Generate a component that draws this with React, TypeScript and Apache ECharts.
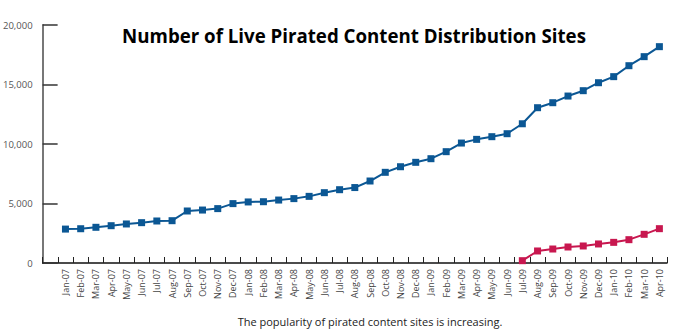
import React, { useEffect, useRef } from "react";
import * as echarts from "echarts";

const months = [
  "Jan-07","Feb-07","Mar-07","Apr-07","May-07","Jun-07","Jul-07","Aug-07","Sep-07","Oct-07","Nov-07","Dec-07",
  "Jan-08","Feb-08","Mar-08","Apr-08","May-08","Jun-08","Jul-08","Aug-08","Sep-08","Oct-08","Nov-08","Dec-08",
  "Jan-09","Feb-09","Mar-09","Apr-09","May-09","Jun-09","Jul-09","Aug-09","Sep-09","Oct-09","Nov-09","Dec-09",
  "Jan-10","Feb-10","Mar-10","Apr-10",
];

const liveSites = [
  2850, 2880, 3000, 3135, 3280, 3390, 3530, 3555, 4370, 4450, 4570, 4990,
  5130, 5150, 5290, 5410, 5600, 5910, 6160, 6340, 6890, 7620, 8090, 8460,
  8765, 9355, 10080, 10390, 10615, 10865, 11700, 13050, 13470, 14030, 14480, 15150,
  15660, 16580, 17340, 18180,
];

const newSites = [
  null, null, null, null, null, null, null, null, null, null, null, null,
  null, null, null, null, null, null, null, null, null, null, null, null,
  null, null, null, null, null, null, 195, 1010, 1175, 1345, 1430, 1600,
  1735, 1960, 2410, 2885,
];

const yTicks = { min: 0, max: 20000, interval: 5000 };

const titleText = "Number of Live Pirated Content Distribution Sites";
const captionText = "The popularity of pirated content sites is increasing.";

export default function App() {
  const ref = useRef<HTMLDivElement>(null);
  useEffect(() => {
    if (!ref.current) return;
    const chart = echarts.init(ref.current, null, { renderer: "svg" });
    const font = "'Open Sans', 'Noto Sans', sans-serif";
    chart.setOption({
      animation: false,
      backgroundColor: "#ffffff",
      title: [
        {
          text: titleText,
          left: 349,
          textAlign: "center",
          top: 21,
          textStyle: { fontFamily: font, fontWeight: "bold", fontSize: 18.7, color: "#000" },
        },
        {
          text: captionText,
          left: 365,
          textAlign: "center",
          top: 311,
          textStyle: { fontFamily: font, fontWeight: "normal", fontSize: 11, color: "#222" },
        },
      ],
      grid: { left: 40, right: 16, top: 25, bottom: 67, containLabel: false },
      xAxis: {
        type: "category",
        boundaryGap: true,
        data: ["", ...months],
        axisLine: { lineStyle: { color: "#111", width: 1.5 } },
        axisTick: { show: true, inside: true, length: 6, interval: 0, lineStyle: { color: "#222", width: 1 } },
        axisLabel: {
          interval: 0,
          rotate: 90,
          margin: 6,
          fontSize: 9,
          color: "#444",
          fontFamily: font,
        },
        splitLine: { show: false },
      },
      yAxis: {
        type: "value",
        min: yTicks.min,
        max: yTicks.max,
        interval: yTicks.interval,
        axisLine: { show: true, lineStyle: { color: "#777", width: 2 } },
        axisTick: { show: true, inside: true, length: 15, lineStyle: { color: "#333", width: 1.5 } },
        axisLabel: {
          margin: 10,
          fontSize: 9.5,
          color: "#555",
          fontFamily: font,
          formatter: (v: number) => v.toLocaleString("en-US"),
        },
        splitLine: { show: false },
      },
      series: [
        {
          type: "line",
          data: [null, ...liveSites],
          symbol: "rect",
          symbolSize: 7,
          lineStyle: { color: "#0b5794", width: 2 },
          itemStyle: { color: "#0b5794" },
        },
        {
          type: "line",
          data: [null, ...newSites],
          symbol: "rect",
          symbolSize: 7,
          lineStyle: { color: "#c8174f", width: 2 },
          itemStyle: { color: "#c8174f" },
        },
      ],
    });
    return () => chart.dispose();
  }, []);
  return <div ref={ref} style={{ width: 683, height: 330, position: "absolute", left: 0, top: 0 }} />;
}
